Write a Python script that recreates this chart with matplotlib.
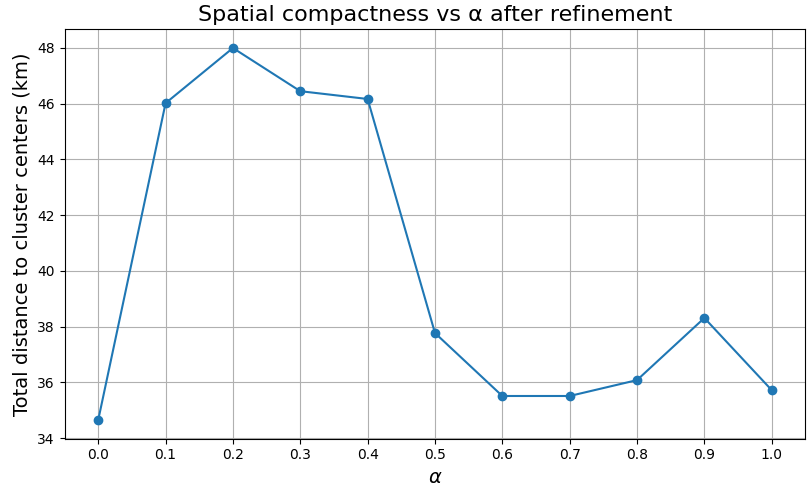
import numpy as np
import matplotlib.pyplot as plt

alphas = [0.0, 0.1, 0.2, 0.3, 0.4, 0.5, 0.6, 0.7, 0.8, 0.9, 1.0]
distances = [34.65, 46.02, 48.0, 46.45, 46.17, 37.77, 35.51, 35.51, 36.08, 38.31, 35.72]

fig, ax = plt.subplots(figsize=(8.07, 4.9), dpi=100)
ax.plot(alphas, distances, marker='o', color='#1f77b4')
ax.set_xticks(alphas)
ax.grid(True)
ax.set_xlabel(r'$\alpha$', fontsize=14)
ax.set_ylabel('Total distance to cluster centers (km)', fontsize=14)
ax.set_title('Spatial compactness vs α after refinement', fontsize=16)
fig.subplots_adjust(left=0.08, right=0.998, top=0.94, bottom=0.105)
fig.savefig('out.png')
